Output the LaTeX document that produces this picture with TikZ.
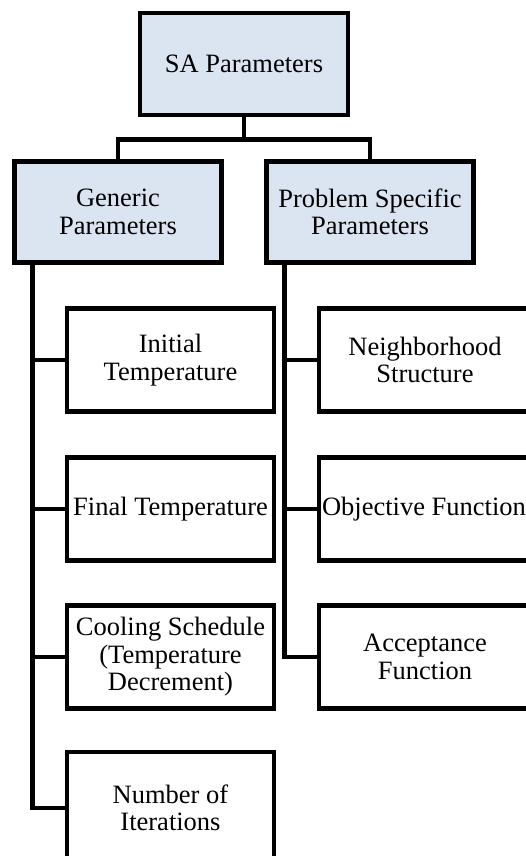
\documentclass[tikz,border=0pt]{standalone}
\usepackage{fontspec}
\setmainfont{Liberation Serif}
\definecolor{headblue}{HTML}{DBE5F1}
\tikzset{
    param/.style={draw, line width=4.5pt, align=center, inner sep=0pt,
        minimum width=207pt, minimum height=103pt,
        font=\fontsize{26.5}{27.5}\selectfont},
    head/.style={param, fill=headblue, minimum height=101pt},
    wide/.style={param, minimum width=212pt},
    link/.style={line width=4.5pt}
}
\begin{document}
\begin{tikzpicture}[x=1pt, y=-1pt]
    \useasboundingbox (0,0) rectangle (525,856);
    % top level
    \node[head, minimum width=208pt, minimum height=102pt] (root) at (244,64) {SA Parameters};
    \node[head] (gen) at (118,212) {Generic\\Parameters};
    \node[head] (prob) at (370,212) {Problem Specific\\Parameters};
    % generic branch
    \node[param] (init) at (170.5,360) {Initial\\Temperature};
    \node[param] (final) at (170.5,509) {Final Temperature};
    \node[param] (cool) at (170.5,657) {Cooling Schedule\\(Temperature\\Decrement)};
    \node[param, minimum height=112pt] (num) at (170.5,808) {Number of\\Iterations};
    % problem specific branch
    \node[wide] (neigh) at (425,360) {Neighborhood\\Structure};
    \node[wide] (obj) at (425,509) {\makebox[206pt][l]{Objective Function}};
    \node[wide] (acc) at (425,657) {Acceptance\\Function};
    % connectors
    \draw[link] (root.south) -- ++(0,22) coordinate (split) -| (gen.north);
    \draw[link] (split) -| (prob.north);
    \draw[link] (gen.south west) ++(20,0) coordinate (lt) -- (lt |- num.west) -- (num.west);
    \foreach \n in {init,final,cool}
        \draw[link] (lt |- \n.west) -- (\n.west);
    \draw[link] (prob.south west) ++(20,0) coordinate (rt) -- (rt |- acc.west) -- (acc.west);
    \foreach \n in {neigh,obj}
        \draw[link] (rt |- \n.west) -- (\n.west);
\end{tikzpicture}
\end{document}
